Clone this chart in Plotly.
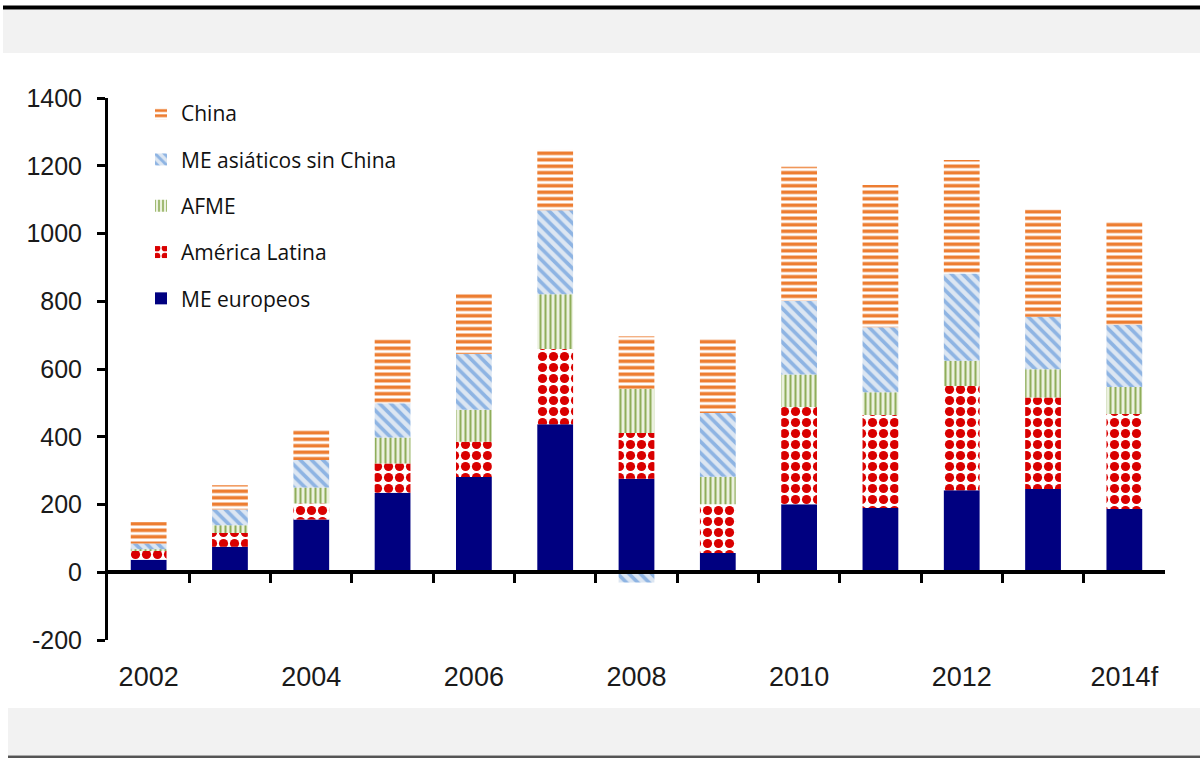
import plotly.graph_objects as go

years = [2002, 2003, 2004, 2005, 2006, 2007, 2008, 2009, 2010, 2011, 2012, 2013, 2014]
year_labels = ["2002", "2004", "2006", "2008", "2010", "2012", "2014f"]
label_years = [2002, 2004, 2006, 2008, 2010, 2012, 2014]

me_europeos = [37, 75, 156, 235, 281, 437, 276, 57, 201, 190, 242, 246, 187]
america_latina = [28, 41, 47, 86, 104, 222, 135, 144, 287, 274, 308, 270, 280]
afme = [3, 23, 47, 77, 95, 162, 131, 81, 96, 67, 74, 83, 80]
asia_sin_china = [17, 46, 81, 101, 164, 248, -30, 188, 217, 192, 258, 155, 183]
china = [63, 72, 90, 189, 180, 180, 155, 220, 396, 420, 335, 317, 305]

y_ticks = [-200, 0, 200, 400, 600, 800, 1000, 1200, 1400]
y_tick_text = ["-200", "0", "200", "400", "600", "800", "1000", "1200", "1400"]

W, H = 1200, 758
L, R, T, B = 108, 35, 98, 118
pw, ph = W - L - R, H - T - B


def px_x(x):
    return (x - L) / pw


def px_y(y):
    return (H - B - y) / ph


fig = go.Figure()
bw = 0.44
series = [
    ("ME europeos", me_europeos, 5, dict(color="#000080")),
    ("América Latina", america_latina, 4,
     dict(color="white", pattern=dict(shape=".", fgcolor="#D90000", bgcolor="white", size=11,
                                      solidity=0.55, fillmode="overlay", fgopacity=1))),
    ("AFME", afme, 3,
     dict(color="#EBF1DE", pattern=dict(shape="|", fgcolor="#8FAE5A", bgcolor="#EBF1DE", size=5,
                                        solidity=0.4, fillmode="overlay", fgopacity=1))),
    ("ME asiáticos sin China", asia_sin_china, 2,
     dict(color="#DCE6F2", pattern=dict(shape="\\", fgcolor="#8EB4E3", bgcolor="#DCE6F2", size=8,
                                        solidity=0.45, fillmode="overlay", fgopacity=1))),
    ("China", china, 1,
     dict(color="white", pattern=dict(shape="-", fgcolor="#ED7D31", bgcolor="white", size=6.5,
                                      solidity=0.55, fillmode="overlay", fgopacity=1))),
]
for name, vals, rank, mk in series:
    mk = dict(mk)
    mk["line"] = dict(width=0)
    fig.add_trace(go.Bar(x=years, y=vals, name=name, width=bw, marker=mk,
                         legendgroup=name, legendrank=rank))

zero_pos = (0 - y_ticks[0]) / (y_ticks[-1] - y_ticks[0])

fig.update_layout(
    width=W, height=H,
    margin=dict(l=L, r=R, t=T, b=B),
    barmode="relative",
    paper_bgcolor="white",
    plot_bgcolor="white",
    showlegend=True,
    legend=dict(
        x=px_x(141), y=px_y(93), xanchor="left", yanchor="top",
        traceorder="grouped", tracegroupgap=16,
        font=dict(family="Open Sans", size=21, color="#111111"),
        bgcolor="rgba(0,0,0,0)", itemwidth=30,
    ),
    xaxis=dict(
        range=[2001.5, 2014.5],
        anchor="free", position=zero_pos,
        tickmode="array", tickvals=label_years, ticktext=year_labels,
        ticks="outside", ticklen=0,
        ticklabelstandoff=80,
        tickfont=dict(family="Liberation Sans", size=27, color="#1a1a1a"),
        showline=True, linecolor="black", linewidth=3.5,
        showgrid=False, zeroline=False,
        minor=dict(tickvals=[y + 0.5 for y in years[:-1]], ticks="outside",
                   ticklen=9, tickwidth=3, tickcolor="black", showgrid=False),
    ),
    yaxis=dict(
        range=[y_ticks[0], y_ticks[-1]],
        tickmode="array", tickvals=y_ticks, ticktext=y_tick_text,
        ticks="outside", ticklen=8, tickwidth=3, tickcolor="black",
        ticklabelstandoff=10,
        tickfont=dict(family="Liberation Sans", size=25, color="#1a1a1a"),
        showline=True, linecolor="black", linewidth=3,
        showgrid=False, zeroline=False,
    ),
    shapes=[
        dict(type="rect", xref="paper", yref="paper", layer="below",
             x0=px_x(3), x1=px_x(1200), y0=px_y(53), y1=px_y(10),
             fillcolor="#F2F2F2", line=dict(width=0)),
        dict(type="rect", xref="paper", yref="paper", layer="below",
             x0=px_x(3), x1=px_x(1200), y0=px_y(9.5), y1=px_y(5.5),
             fillcolor="black", line=dict(width=0)),
        dict(type="rect", xref="paper", yref="paper", layer="below",
             x0=px_x(8), x1=px_x(1200), y0=px_y(755), y1=px_y(708),
             fillcolor="#F2F2F2", line=dict(width=0)),
        dict(type="rect", xref="paper", yref="paper", layer="below",
             x0=px_x(8), x1=px_x(1200), y0=px_y(758), y1=px_y(755.5),
             fillcolor="#555555", line=dict(width=0)),
    ],
)

fig.write_html("out.html")
